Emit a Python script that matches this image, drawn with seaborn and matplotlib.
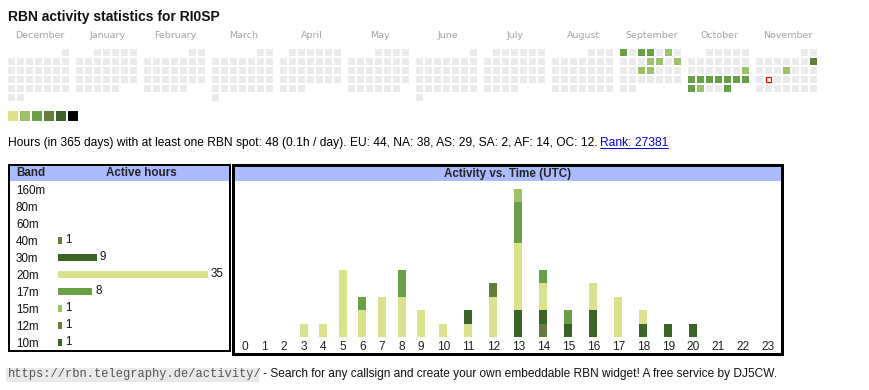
import numpy as np
import pandas as pd
import matplotlib
matplotlib.use("Agg")
import matplotlib.pyplot as plt
import seaborn as sns
from matplotlib.patches import Rectangle

# ---------------- data ----------------
title = "RBN activity statistics for RI0SP"
months = ["December", "January", "February", "March", "April", "May", "June",
          "July", "August", "September", "October", "November"]
cal_start = "2024-12-01"
cal_end = "2025-11-30"
today = "2025-11-18"

active_days = ["2025-09-01", "2025-09-03", "2025-09-04", "2025-09-06", "2025-09-11",
               "2025-09-12", "2025-09-14", "2025-09-17", "2025-09-18", "2025-10-19",
               "2025-10-20", "2025-10-21", "2025-10-22", "2025-10-23", "2025-10-24",
               "2025-10-25", "2025-10-26", "2025-10-27", "2025-10-28", "2025-10-31",
               "2025-11-09", "2025-11-13"]
active_levels = [3, 3, 3, 2, 2, 2, 2, 2, 2, 2,
                 3, 3, 3, 3, 3, 3, 3, 3, 2, 3,
                 4, 2]
level_colors = ["#dae38b", "#9dc166", "#699f45", "#677b3a", "#3b6427", "#000000"]

summary = ("Hours (in 365 days) with at least one RBN spot: 48 (0.1h / day). "
           "EU: 44, NA: 38, AS: 29, SA: 2, AF: 14, OC: 12. ")
rank_text = "Rank: 27381"

bands = ["160m", "80m", "60m", "40m", "30m", "20m", "17m", "15m", "12m", "10m"]
band_hours = [0, 0, 0, 1, 9, 35, 8, 1, 1, 1]
band_colors = ["#9dc166", "#699f45", "#dae38b", "#677b3a", "#3b6427",
               "#dae38b", "#699f45", "#9dc166", "#677b3a", "#3b6427"]

hours = list(range(24))
h40m = [0, 0, 0, 0, 0, 0, 0, 0, 0, 0, 0, 0, 0, 0, 1, 0, 0, 0, 0, 0, 0, 0, 0, 0]
h30m = [0, 0, 0, 0, 0, 0, 0, 0, 0, 0, 0, 0, 0, 2, 1, 1, 2, 0, 1, 1, 1, 0, 0, 0]
h20m = [0, 0, 0, 1, 1, 5, 2, 3, 3, 2, 1, 1, 3, 5, 2, 0, 2, 3, 1, 0, 0, 0, 0, 0]
h17m = [0, 0, 0, 0, 0, 0, 1, 0, 2, 0, 0, 0, 0, 3, 1, 1, 0, 0, 0, 0, 0, 0, 0, 0]
h15m = [0, 0, 0, 0, 0, 0, 0, 0, 0, 0, 0, 0, 0, 1, 0, 0, 0, 0, 0, 0, 0, 0, 0, 0]
h12m = [0, 0, 0, 0, 0, 0, 0, 0, 0, 0, 0, 0, 1, 0, 0, 0, 0, 0, 0, 0, 0, 0, 0, 0]
h10m = [0, 0, 0, 0, 0, 0, 0, 0, 0, 0, 0, 1, 0, 0, 0, 0, 0, 0, 0, 0, 0, 0, 0, 0]
stack_bands = ["40m", "30m", "20m", "17m", "15m", "12m", "10m"]
stack_values = [h40m, h30m, h20m, h17m, h15m, h12m, h10m]

footer_url = "https://rbn.telegraphy.de/activity/"
footer_text = " - Search for any callsign and create your own embeddable RBN widget! A free service by DJ5CW."

# ---------------- style ----------------
sns.set_theme(style="white")
plt.rcParams["font.family"] = ["Liberation Sans", "DejaVu Sans"]
plt.rcParams["patch.force_edgecolor"] = False

W, H = 870, 390
fig = plt.figure(figsize=(W / 100, H / 100), dpi=100)
fig.patch.set_facecolor("white")


def px_axes(x0, y0, x1, y1, **kw):
    return fig.add_axes([x0 / W, 1 - y1 / H, (x1 - x0) / W, (y1 - y0) / H], **kw)


ov = px_axes(0, 0, W, H)
ov.set_xlim(0, W)
ov.set_ylim(H, 0)
ov.axis("off")
ov.set_zorder(0)

PX = 0.72  # points per pixel


def fit(t, target):
    fig.canvas.draw()
    r = fig.canvas.get_renderer()
    w = t.get_window_extent(r).width
    t.set_fontsize(t.get_fontsize() * target / w)
    fig.canvas.draw()
    return t.get_window_extent(fig.canvas.get_renderer())


# title
tt = ov.text(8, 20.5, title, fontsize=11.5, fontweight="bold", color="#111111",
             ha="left", va="baseline")
fit(tt, 213)

# ---------------- calendar ----------------
CAL_X0, CAL_Y0, CELL, PITCH, BLOCK = 8, 49, 7, 9, 68
level_of = dict(zip(active_days, active_levels))
first = pd.Timestamp(cal_start)
for d in pd.date_range(cal_start, cal_end):
    block = (d.year - first.year) * 12 + d.month - first.month
    fwd = d.replace(day=1).weekday()
    row = (d.day - 1 + fwd) // 7
    col = d.weekday()
    x = CAL_X0 + block * BLOCK + col * PITCH
    y = CAL_Y0 + row * PITCH
    key = d.strftime("%Y-%m-%d")
    if key == today:
        ov.add_patch(Rectangle((x + 0.6, y + 0.6), CELL - 1.2, CELL - 1.2,
                               facecolor="white", edgecolor="#ff0000", lw=1.2 * PX))
    else:
        c = level_colors[level_of[key] - 1] if key in level_of else "#ebebeb"
        ov.add_patch(Rectangle((x, y), CELL, CELL, facecolor=c, edgecolor="none", lw=0))

for i, m in enumerate(months):
    ov.text(CAL_X0 + i * BLOCK + 31.5, 38.3, m, fontsize=6.8, color="#a4a4a4",
            family="DejaVu Sans", ha="center", va="baseline")

for i, c in enumerate(level_colors):
    ov.add_patch(Rectangle((8 + 12 * i, 111), 10, 10, facecolor=c, edgecolor="none", lw=0))

# summary line
st = ov.text(8, 146, summary, fontsize=8.0, color="black", ha="left", va="baseline")
ext = fit(st, 592)
rx = 600
rt = ov.text(rx, 146, rank_text, fontsize=st.get_fontsize(), color="#0000ee",
             ha="left", va="baseline")
fig.canvas.draw()
rw = rt.get_window_extent(fig.canvas.get_renderer()).width
ov.plot([rx, rx + rw], [147.5, 147.5], color="#0000ee", lw=1 * PX)

# ---------------- boxes ----------------
HDR = "#aabbff"
ov.add_patch(Rectangle((9, 165), 221, 16, facecolor=HDR, edgecolor="none", lw=0))
ov.add_patch(Rectangle((9, 165), 221, 186, facecolor="none", edgecolor="black", lw=2 * PX))
ov.add_patch(Rectangle((233, 164.5), 548.5, 16.5, facecolor=HDR, edgecolor="none", lw=0))
ov.add_patch(Rectangle((233, 164.5), 549, 189.5, facecolor="none", edgecolor="black", lw=3 * PX))
hdr_fs = 8.4
ov.text(16, 173.5, "Band", fontsize=hdr_fs, fontweight="bold", ha="left", va="center")
ov.text(141.5, 173.5, "Active hours", fontsize=hdr_fs, fontweight="bold", ha="center", va="center")
ov.text(508, 173.5, "Activity vs. Time (UTC)", fontsize=hdr_fs, fontweight="bold",
        ha="center", va="center")

# ---------------- band chart ----------------
axb = px_axes(58, 180.8, 228, 350.8)
axb.set_facecolor("none")
df_b = pd.DataFrame({"band": bands, "hours": band_hours})
sns.barplot(data=df_b, x="hours", y="band", hue="band", palette=band_colors,
            order=bands, hue_order=bands, orient="h", width=0.42, legend=False,
            saturation=1, linewidth=0, edgecolor="none", ax=axb)
axb.set_xlim(0, 170 / 4.28)
axb.set_ylim(9.5, -0.5)
for p in axb.patches:
    v = p.get_width()
    if v > 0:
        axb.annotate(f"{int(v)}", (v, p.get_y() + p.get_height() / 2),
                     xytext=(3 * PX, 0), textcoords="offset points",
                     ha="left", va="center", fontsize=8.4, color="#111111")
axb.set_xticks([])
axb.set_yticks(range(len(bands)), labels=bands)
for lab in axb.get_yticklabels():
    lab.set_horizontalalignment("left")
    lab.set_fontsize(8.4)
    lab.set_color("#111111")
axb.tick_params(axis="y", length=0, pad=42 * PX)
axb.set_xlabel("")
axb.set_ylabel("")
for s in axb.spines.values():
    s.set_visible(False)

# ---------------- activity chart ----------------
axa = px_axes(235, 181, 781, 337)
axa.set_facecolor("none")
col_w = np.array([14.2 + 5.4 * len(str(h)) for h in hours])
centers = np.cumsum(col_w) - col_w / 2
color_of = dict(zip(bands, band_colors))
bottom = np.zeros(len(hours))
for b, vals in zip(stack_bands, stack_values):
    vals = np.array(vals, dtype=float)
    axa.bar(centers, vals, width=8, bottom=bottom, color=color_of[b],
            linewidth=0, edgecolor="none")
    bottom += vals
axa.set_xlim(0, col_w.sum())
axa.set_ylim(0, 156 / 13.5)
axa.set_yticks([])
axa.set_xticks(centers, labels=[str(h) for h in hours])
axa.tick_params(axis="x", length=0, pad=4.5 * PX, labelsize=8.6, labelcolor="#222222")
for s in axa.spines.values():
    s.set_visible(False)

# ---------------- footer ----------------
ut = ov.text(8, 374.5, footer_url, fontsize=8.3, family="Liberation Mono", color="#555555",
             ha="left", va="center")
ue = fit(ut, 250)
ov.add_patch(Rectangle((6.5, 367.5), 253, 14, facecolor="#e9e9e9", edgecolor="none",
                       lw=0, zorder=0))
ft = ov.text(260, 374.5, footer_text, fontsize=8.0, color="#111111", ha="left", va="center")
fit(ft, 523)

fig.savefig("out.png", dpi=100, facecolor="white")
